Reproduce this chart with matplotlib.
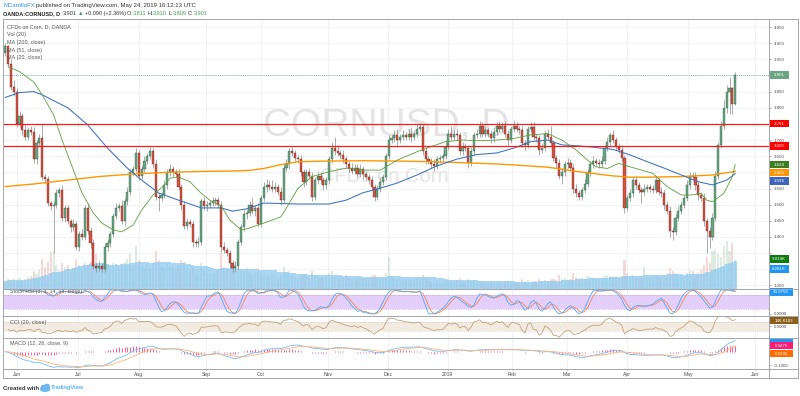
import numpy as np
import pandas as pd
import matplotlib
matplotlib.use("Agg")
import matplotlib.pyplot as plt
from matplotlib.patches import Rectangle, Ellipse
from matplotlib.lines import Line2D
from matplotlib.transforms import blended_transform_factory

plt.rcParams['font.family'] = ['Liberation Sans', 'DejaVu Sans']

# ---------------- data ----------------
first_open = 3.97
closes = [
    3.99, 3.935, 3.865, 3.85, 3.75, 3.775, 3.73, 3.71, 3.73, 3.725,
    3.64, 3.69, 3.705, 3.585, 3.58, 3.505, 3.495, 3.50, 3.535, 3.545,
    3.46, 3.49, 3.45, 3.43, 3.44, 3.37, 3.41, 3.40, 3.49, 3.42,
    3.38, 3.31, 3.305, 3.31, 3.30, 3.37, 3.38, 3.41, 3.465, 3.49,
    3.495, 3.45, 3.51, 3.54, 3.60, 3.61, 3.66, 3.59, 3.61, 3.635,
    3.65, 3.665, 3.625, 3.525, 3.52, 3.53, 3.56, 3.60, 3.61, 3.60,
    3.595, 3.555, 3.50, 3.435, 3.445, 3.44, 3.385, 3.38, 3.385, 3.51,
    3.495, 3.50, 3.505, 3.51, 3.515, 3.50, 3.37, 3.36, 3.35, 3.32,
    3.305, 3.31, 3.385, 3.43, 3.47, 3.475, 3.50, 3.48, 3.49, 3.44,
    3.52, 3.555, 3.56, 3.555, 3.55, 3.555, 3.54, 3.515, 3.615, 3.625,
    3.665, 3.66, 3.645, 3.64, 3.60, 3.57, 3.60, 3.59, 3.525, 3.575,
    3.59, 3.575, 3.56, 3.575, 3.64, 3.675, 3.665, 3.66, 3.655, 3.64,
    3.625, 3.615, 3.605, 3.615, 3.595, 3.61, 3.595, 3.585, 3.575, 3.555,
    3.525, 3.55, 3.57, 3.585, 3.65, 3.70, 3.705, 3.715, 3.70, 3.71,
    3.715, 3.71, 3.72, 3.71, 3.72, 3.735, 3.74, 3.665, 3.64, 3.635,
    3.625, 3.62, 3.64, 3.645, 3.65, 3.68, 3.72, 3.71, 3.72, 3.715,
    3.665, 3.68, 3.675, 3.63, 3.665, 3.715, 3.72, 3.745, 3.72, 3.73,
    3.72, 3.705, 3.725, 3.745, 3.735, 3.745, 3.72, 3.70, 3.735, 3.745,
    3.735, 3.73, 3.69, 3.685, 3.735, 3.74, 3.71, 3.705, 3.67, 3.675,
    3.72, 3.71, 3.69, 3.645, 3.63, 3.59, 3.60, 3.625, 3.63, 3.615,
    3.55, 3.535, 3.525, 3.545, 3.565, 3.60, 3.625, 3.635, 3.63, 3.625,
    3.635, 3.675, 3.695, 3.715, 3.70, 3.68, 3.67, 3.645, 3.49, 3.52,
    3.535, 3.575, 3.56, 3.545, 3.54, 3.55, 3.555, 3.55, 3.545, 3.575,
    3.54, 3.535, 3.50, 3.48, 3.42, 3.415, 3.46, 3.48, 3.50, 3.52,
    3.56, 3.59, 3.585, 3.56, 3.53, 3.52, 3.45, 3.42, 3.40, 3.46,
    3.59, 3.685, 3.745, 3.80, 3.85, 3.86, 3.811, 3.901,
]

# wick lengths in cents above / below the body
wick_up = [
    1.0, 0.5, 1.5, 2.0, 1.0, 1.5, 1.0, 2.0, 1.0, 1.5,
    1.5, 1.0, 1.5, 4.5, 1.0, 1.0, 0.5, 1.0, 1.5, 1.0,
    1.5, 1.0, 1.0, 0.5, 1.5, 1.0, 1.0, 1.5, 1.0, 1.5,
    1.0, 1.5, 1.0, 1.5, 1.0, 1.0, 1.5, 1.0, 1.0, 1.5,
    1.0, 2.0, 1.0, 1.5, 1.0, 1.0, 1.5, 1.0, 1.0, 1.5,
    1.0, 1.5, 1.0, 1.5, 1.0, 1.0, 1.5, 1.0, 1.5, 1.0,
    1.0, 1.5, 1.0, 1.0, 1.5, 1.0, 1.0, 1.0, 1.5, 1.0,
    1.5, 1.0, 1.0, 1.5, 1.0, 1.0, 1.0, 1.5, 1.0, 1.0,
    1.0, 1.5, 1.0, 1.0, 1.5, 1.0, 1.0, 2.0, 1.0, 1.5,
    1.0, 1.5, 2.0, 1.5, 2.0, 1.5, 1.0, 1.5, 1.0, 1.5,
    1.0, 1.5, 1.0, 1.0, 1.5, 1.0, 1.0, 1.5, 1.0, 1.0,
    1.5, 1.0, 1.0, 1.0, 1.0, 2.0, 3.5, 2.0, 1.0, 1.5,
    1.0, 1.0, 1.5, 1.0, 1.0, 1.5, 1.0, 1.0, 1.0, 1.5,
    1.0, 1.0, 1.5, 1.0, 1.0, 1.5, 1.0, 1.5, 2.0, 1.0,
    1.5, 1.0, 1.5, 2.0, 1.0, 1.5, 1.0, 1.0, 1.5, 1.0,
    1.0, 1.5, 1.0, 1.0, 1.0, 1.5, 1.5, 2.5, 1.0, 1.5,
    1.0, 1.5, 1.0, 1.0, 1.5, 1.0, 1.5, 1.5, 1.0, 1.5,
    1.0, 1.0, 1.5, 1.0, 1.5, 1.0, 1.5, 1.0, 1.0, 1.8,
    1.0, 1.0, 1.5, 1.0, 1.0, 1.5, 1.5, 1.0, 1.0, 1.5,
    1.0, 1.5, 3.5, 1.0, 1.0, 1.0, 1.5, 1.0, 1.5, 1.0,
    1.0, 1.5, 1.0, 1.0, 1.5, 1.0, 1.0, 1.5, 1.0, 1.0,
    1.5, 1.0, 1.5, 1.0, 1.5, 1.0, 1.0, 1.5, 1.0, 1.0,
    1.5, 1.0, 1.5, 1.0, 1.0, 1.5, 1.0, 1.0, 1.0, 1.5,
    1.0, 1.5, 1.0, 1.0, 1.5, 1.0, 1.0, 1.5, 1.0, 1.0,
    1.5, 1.0, 1.0, 1.5, 1.0, 1.0, 1.5, 1.0, 1.0, 1.5,
    1.5, 1.0, 1.5, 2.5, 2.0, 3.5, 0.5, 0.9,
]
wick_dn = [
    1.0, 1.0, 1.0, 1.5, 1.0, 1.0, 1.5, 1.0, 1.0, 1.0,
    1.0, 1.5, 1.0, 1.0, 1.5, 1.0, 1.0, 14.5, 1.0, 1.0,
    1.0, 1.5, 1.0, 1.5, 1.0, 1.0, 1.5, 1.0, 1.0, 1.0,
    1.5, 1.0, 1.5, 1.0, 1.0, 1.0, 1.5, 1.0, 1.0, 1.0,
    1.0, 1.0, 1.5, 1.0, 1.0, 1.0, 1.0, 1.5, 1.0, 1.0,
    1.0, 1.0, 1.0, 1.0, 4.0, 1.0, 1.0, 1.0, 1.0, 1.5,
    1.0, 1.0, 1.5, 1.0, 1.0, 1.0, 1.5, 1.0, 1.0, 1.0,
    1.0, 1.5, 1.0, 1.0, 1.0, 1.0, 1.5, 1.0, 1.0, 1.5,
    1.5, 1.0, 1.0, 1.0, 1.0, 1.5, 1.0, 1.0, 1.5, 1.0,
    1.0, 1.0, 1.5, 1.0, 1.0, 1.0, 1.0, 1.5, 1.0, 1.0,
    1.5, 1.0, 1.0, 1.0, 1.0, 1.5, 1.0, 1.0, 1.5, 1.0,
    1.0, 1.0, 1.5, 1.0, 1.0, 1.0, 1.0, 1.0, 1.5, 1.0,
    1.0, 1.5, 1.0, 1.0, 1.0, 1.0, 1.5, 1.0, 1.0, 1.0,
    1.5, 1.0, 1.0, 1.0, 1.0, 1.0, 1.0, 1.0, 1.5, 1.0,
    1.0, 1.0, 1.0, 1.5, 1.0, 1.0, 1.0, 1.0, 1.5, 1.0,
    1.0, 1.5, 1.0, 1.0, 1.0, 1.0, 1.0, 1.0, 1.0, 1.5,
    1.0, 1.0, 1.0, 1.5, 1.0, 1.0, 1.0, 1.0, 1.0, 1.0,
    1.0, 1.5, 1.0, 1.0, 1.0, 1.0, 1.0, 1.5, 1.0, 1.0,
    1.0, 1.0, 1.0, 1.5, 1.0, 1.0, 1.0, 1.0, 1.5, 1.0,
    1.0, 1.0, 1.0, 1.0, 1.5, 1.0, 2.5, 1.0, 1.0, 1.0,
    1.5, 1.0, 1.0, 1.0, 1.0, 1.0, 1.0, 1.0, 1.0, 1.0,
    1.0, 1.0, 1.0, 1.0, 1.0, 1.0, 1.0, 1.0, 1.5, 1.0,
    1.0, 1.0, 1.0, 1.0, 3.5, 1.0, 1.0, 1.0, 1.0, 1.0,
    1.0, 1.0, 1.5, 1.0, 2.0, 2.5, 1.0, 1.0, 1.0, 1.0,
    1.0, 1.0, 1.0, 1.5, 1.5, 1.0, 1.5, 7.0, 3.5, 1.0,
    1.0, 1.0, 1.0, 1.0, 1.5, 7.0, 3.0, 0.1,
]

# volume in thousands
volumes = [
    2.5, 3.0, 2.8, 3.2, 2.6, 3.5, 2.4, 3.0, 3.8, 4.2,
    5.5, 4.8, 6.0, 9.5, 7.0, 8.5, 11.5, 12.0, 7.5, 6.0,
    8.0, 7.0, 7.5, 6.0, 6.5, 9.5, 7.5, 6.0, 8.0, 7.5,
    8.5, 9.0, 11.0, 7.5, 6.5, 8.5, 7.5, 7.0, 8.0, 7.5,
    6.5, 7.5, 8.5, 9.5, 11.0, 7.5, 13.5, 9.0, 7.5, 6.5,
    7.5, 6.5, 8.0, 12.0, 9.0, 7.0, 6.5, 8.0, 7.0, 6.5,
    6.0, 7.5, 9.0, 8.5, 6.0, 5.5, 7.0, 5.0, 4.5, 8.0,
    5.5, 5.0, 4.5, 4.8, 5.0, 6.0, 12.0, 7.0, 6.5, 6.0,
    7.5, 5.5, 7.0, 6.0, 5.5, 6.5, 5.0, 4.5, 5.0, 6.5,
    5.0, 4.5, 4.0, 3.8, 4.2, 4.0, 3.5, 4.5, 7.0, 5.0,
    5.5, 4.0, 3.8, 3.5, 4.5, 4.8, 4.0, 3.5, 5.5, 4.5,
    4.0, 3.5, 3.8, 4.0, 5.0, 5.5, 4.0, 3.5, 3.0, 3.8,
    4.5, 3.5, 3.2, 3.0, 3.8, 3.5, 3.0, 3.2, 3.5, 4.0,
    4.5, 3.5, 3.2, 3.5, 5.0, 10.0, 4.0, 3.5, 3.2, 3.0,
    2.8, 3.0, 3.2, 2.8, 3.0, 3.5, 3.2, 4.5, 3.5, 3.0,
    2.5, 2.0, 2.2, 1.8, 2.0, 2.8, 3.2, 2.5, 2.2, 2.8,
    3.5, 2.5, 2.2, 3.0, 2.5, 2.8, 2.2, 2.5, 2.3, 2.0,
    2.2, 2.5, 2.0, 2.3, 2.1, 2.0, 2.4, 2.6, 2.2, 2.0,
    2.1, 2.0, 3.0, 2.5, 2.8, 2.3, 2.6, 2.4, 3.0, 2.2,
    2.8, 2.5, 3.0, 3.2, 2.8, 4.5, 3.0, 3.5, 2.8, 3.2,
    5.0, 3.8, 3.5, 3.5, 3.2, 4.0, 3.8, 3.5, 3.2, 3.0,
    3.5, 4.0, 4.5, 4.2, 3.8, 4.0, 3.5, 4.0, 9.0, 5.0,
    4.0, 4.5, 4.0, 3.8, 4.2, 7.0, 4.0, 3.5, 3.8, 4.5,
    4.0, 3.8, 4.5, 5.0, 6.5, 5.5, 5.0, 4.5, 4.2, 4.0,
    5.0, 6.0, 5.5, 4.8, 5.0, 6.0, 7.5, 10.0, 8.0, 12.0,
    12.5, 11.0, 10.0, 13.5, 15.0, 12.0, 14.5, 9.034,
]

# moving averages (bar index, value)
ma20_idx = [1, 5, 10, 13, 17, 20, 24, 27, 31, 34, 38, 41, 45, 48, 52, 56, 58, 61, 65,
            69, 72, 76, 79, 83, 85, 91, 97, 99, 103, 108, 114, 120, 126, 132, 134, 138,
            145, 150, 155, 161, 167, 173, 179, 185, 191, 196, 201, 205, 208, 212, 216,
            220, 224, 228, 233, 238, 242, 245, 247, 249, 253, 256, 257]
ma20_val = [3.927, 3.912, 3.88, 3.84, 3.778, 3.70, 3.607, 3.536, 3.474, 3.443, 3.422,
            3.416, 3.437, 3.483, 3.53, 3.56, 3.582, 3.586, 3.571, 3.535, 3.514, 3.496,
            3.453, 3.422, 3.425, 3.443, 3.462, 3.49, 3.55, 3.587, 3.602, 3.613, 3.607,
            3.607, 3.617, 3.638, 3.664, 3.68, 3.695, 3.70, 3.698, 3.70, 3.705, 3.716,
            3.72, 3.70, 3.669, 3.638, 3.617, 3.612, 3.628, 3.617, 3.607, 3.597, 3.556,
            3.53, 3.53, 3.535, 3.514, 3.509, 3.535, 3.587, 3.624]
ma51_idx = [0, 5, 10, 13, 22, 29, 36, 43, 48, 54, 61, 69, 76, 80, 85, 91, 103, 114,
            120, 126, 132, 138, 145, 152, 159, 166, 173, 179, 185, 191, 196, 202, 208,
            214, 220, 226, 232, 238, 244, 249, 254, 257]
ma51_val = [3.832, 3.847, 3.85, 3.84, 3.80, 3.747, 3.675, 3.613, 3.576, 3.536, 3.514,
            3.49, 3.49, 3.48, 3.487, 3.505, 3.502, 3.502, 3.514, 3.537, 3.551, 3.567,
            3.592, 3.62, 3.641, 3.655, 3.66, 3.675, 3.695, 3.70, 3.685, 3.682, 3.677,
            3.671, 3.654, 3.633, 3.613, 3.592, 3.571, 3.561, 3.576, 3.596]
ma200_idx = [0, 10, 22, 33, 45, 57, 69, 79, 86, 91, 97, 103, 114, 126, 138, 150, 161,
             173, 179, 191, 202, 214, 220, 226, 238, 249, 257]
ma200_val = [3.556, 3.564, 3.576, 3.587, 3.595, 3.60, 3.603, 3.604, 3.606, 3.612, 3.624,
             3.633, 3.635, 3.636, 3.635, 3.633, 3.63, 3.626, 3.623, 3.616, 3.602, 3.589,
             3.585, 3.585, 3.587, 3.592, 3.603]

levels = [3.751, 3.682]

month_pos = [4.0, 25.5, 47.0, 70.7, 90.0, 113.6, 134.8, 155.8, 178.4, 197.7, 218.9, 240.4, 264.0]
month_lbl = ["Jun", "Jul", "Aug", "Sep", "Oct", "Nov", "Dec", "2019", "Feb", "Mar", "Apr", "May", "Jun"]
price_ticks = [3.25, 3.30, 3.35, 3.40, 3.45, 3.50, 3.55, 3.60, 3.65, 3.70, 3.75, 3.80,
               3.85, 3.90, 3.95, 4.00, 4.05]
# tick labels that sit under the coloured value tags are not shown
hidden_ticks = [3.30, 3.35, 3.60, 3.75, 3.90]

# ---------------- derived series ----------------
c = pd.Series(closes)
opens = np.array([first_open] + closes[:-1])
cl = np.array(closes)
highs = np.maximum(opens, cl) + np.array(wick_up) / 100
lows = np.minimum(opens, cl) - np.array(wick_dn) / 100
idx = np.arange(len(closes))
up = cl >= opens
vol = np.array(volumes)
vol_ma = pd.Series(vol).rolling(20, min_periods=1).mean().values

delta = c.diff()
gain = delta.clip(lower=0).ewm(alpha=1 / 14, adjust=False).mean()
loss = (-delta).clip(lower=0).ewm(alpha=1 / 14, adjust=False).mean()
rsi = 100 - 100 / (1 + gain / loss)
rlo = rsi.rolling(14, min_periods=1).min()
rhi = rsi.rolling(14, min_periods=1).max()
stoch = 100 * (rsi - rlo) / (rhi - rlo)
st_k = stoch.rolling(3, min_periods=1).mean()
st_d = st_k.rolling(3, min_periods=1).mean()

sma20 = c.rolling(20, min_periods=2).mean()
mdev = c.rolling(20, min_periods=2).apply(lambda x: np.mean(np.abs(x - x.mean())), raw=True)
cci = (c - sma20) / (0.015 * mdev)

macd = c.ewm(span=12, adjust=False).mean() - c.ewm(span=26, adjust=False).mean()
signal = macd.ewm(span=9, adjust=False).mean()
hist = macd - signal

# ---------------- layout ----------------
W, H = 800, 396
fig = plt.figure(figsize=(8, 3.96), dpi=100)
fig.patch.set_facecolor("white")
X0, X1 = 3, 769
XLIM = (-0.81, 268.9)
UP, DOWN = "#6ba583", "#d75442"
UP_EDGE, DOWN_EDGE = "#225437", "#5b1a13"
TXT = "#4a4a4a"
GRID = "#eef0f4"


def fx(px):
    return px / W


def fy(py):
    return 1 - py / H


def pane(top, bottom):
    ax = fig.add_axes([fx(X0), fy(bottom), (X1 - X0) / W, (bottom - top) / H])
    ax.set_xlim(*XLIM)
    ax.set_xticks([])
    for s in ax.spines.values():
        s.set_visible(False)
    ax.yaxis.tick_right()
    ax.tick_params(axis="y", length=1.5, width=0.5, color="#888888", pad=1.8,
                   labelsize=3.2, labelcolor=TXT)
    for m in month_pos:
        ax.axvline(m, color=GRID, lw=0.6, zorder=0)
    return ax


def tag(ax, y, text, color, w_px=20, h_px=7.5):
    y0, y1 = ax.get_ylim()
    pos = ax.get_position()
    h = h_px * (y1 - y0) / (pos.height * H)
    w = w_px / (pos.width * W)
    tr = blended_transform_factory(ax.transAxes, ax.transData)
    ax.add_patch(Rectangle((1.0, y - h / 2), w, h, transform=tr, facecolor=color,
                           edgecolor="none", clip_on=False, zorder=6))
    if text:
        ax.text(1.0 + w / 2, y, text, transform=tr, ha="center", va="center",
                fontsize=3.2, color="white", clip_on=False, zorder=7)


# ---- main price pane ----
ax = pane(19, 289)
ax.set_ylim(3.2389, 4.0748)
ax.set_yticks(price_ticks)
ax.set_yticklabels(["" if any(abs(p - h) < 1e-9 for h in hidden_ticks) else f"{p:.3f}"
                    for p in price_ticks])
for p in price_ticks:
    ax.axhline(p, color=GRID, lw=0.6, zorder=0)

# watermark, centred on the pane (bar index 134 is the middle of the plot)
ax.text(134, 3.742, "CORNUSD, D", fontsize=28, color="#e4e4e4", ha="center",
        va="center", zorder=0.5)
ax.text(133.5, 3.588, "CFDs on Corn", fontsize=14.5, color="#e4e4e4", ha="center",
        va="center", zorder=0.5)

# volume overlay at bottom of the pane (3.2 px per 1K)
vk = 3.2 / 323.0
vol_col = [UP if u else DOWN for u in up]
ax.bar(idx, vol * vk, bottom=3.2389, width=0.75, color=vol_col, alpha=0.22,
       linewidth=0, zorder=1)
ax.bar(idx, vol_ma * vk, bottom=3.2389, width=1.0, color="#8ccaf0", alpha=0.75,
       linewidth=0, zorder=1.2)

# candles
ax.vlines(idx, lows, highs, color="#8a8a8a", lw=0.5, zorder=2)
body_lo = np.minimum(opens, cl)
body_h = np.maximum(np.abs(cl - opens), 0.0015)
ax.bar(idx, body_h, bottom=body_lo, width=0.75,
       color=[UP if u else DOWN for u in up],
       edgecolor=[UP_EDGE if u else DOWN_EDGE for u in up], linewidth=0.25, zorder=2.5)

ax.plot(ma200_idx, ma200_val, color="#ff9800", lw=1.0, zorder=3)
ax.plot(ma51_idx, ma51_val, color="#3c6fbf", lw=0.75, zorder=3)
ax.plot(ma20_idx, ma20_val, color="#5c9e3f", lw=0.6, zorder=3)

for lv in levels:
    ax.axhline(lv, color="#ff1a1a", lw=0.9, zorder=4)
ax.axhline(closes[-1], color=UP, lw=0.6, ls=(0, (1, 1.5)), zorder=1.5)

legend_lines = ["CFDs on Corn, D, OANDA", "Vol (20)", "MA (200, close)",
                "MA (51, close)", "MA (20, close)"]
for k, s in enumerate(legend_lines):
    fig.text(fx(7), fy(26.7 + 7.8 * k), s, fontsize=3.9, color="#555555",
             ha="left", va="center")

tag(ax, 3.901, "3.901", UP)
tag(ax, 3.751, "3.751", "#ff0000")
tag(ax, 3.682, "3.682", "#ff0000")
tag(ax, 3.624, "3.624", "#3a7d22")
tag(ax, 3.599, "3.603", "#ff9800")
tag(ax, 3.574, "3.596", "#3d66b8")
tag(ax, 3.332, "9.034K", "#0c7a0c")
tag(ax, 3.301, "8.281K", "#2196f3")

# ---- Stoch RSI pane ----
ax_s = pane(289, 316.3)
ax_s.set_ylim(-10.5, 104.2)
ax_s.set_yticks([0])
ax_s.set_yticklabels(["0.0000"])
ax_s.axhspan(20, 80, color="#e4cefa", zorder=0.5, lw=0)
for lv in (20, 80):
    ax_s.axhline(lv, color="#b596da", lw=0.4, ls=(0, (2, 2)), zorder=0.6)
ax_s.plot(idx, st_k, color="#58a8f0", lw=0.6, zorder=3)
ax_s.plot(idx, st_d, color="#f08a5a", lw=0.6, zorder=2.5)
ax_s.text(1.5, 94, "Stoch RSI (3, 3, 14, 14, close)", fontsize=3.9, color="#555555",
          va="center")
tag(ax_s, 91, "93.9756", "#2196f3", w_px=24)

# ---- CCI pane ----
ax_c = pane(316.3, 338)
ax_c.set_ylim(-250, 216)
ax_c.set_yticks([0])
ax_c.set_yticklabels(["0.0000"])
ax_c.axhspan(-100, 100, color="#f1ebe1", zorder=0.5, lw=0)
for lv in (-100, 100):
    ax_c.axhline(lv, color="#d2c4ae", lw=0.4, ls=(0, (2, 2)), zorder=0.6)
ax_c.plot(idx, cci, color="#c4a27a", lw=0.6, zorder=3)
ax_c.text(1.5, 80, "CCI (20, close)", fontsize=3.9, color="#555555", va="center")
tag(ax_c, 125, "146.6183", "#8b6016", w_px=29)

# ---- MACD pane ----
ax_m = pane(338, 368.7)
ax_m.set_ylim(-0.125, 0.1007)
ax_m.set_yticks([-0.1])
ax_m.set_yticklabels(["-0.1000"])
ax_m.vlines(idx, 0, hist, color="#ff5a96", lw=0.7, zorder=2)
ax_m.plot(idx, macd, color="#72bcf5", lw=0.6, zorder=3)
ax_m.plot(idx, signal, color="#ffb27a", lw=0.6, zorder=3)
ax_m.text(1.5, 0.062, "MACD (12, 26, close, 9)", fontsize=3.9, color="#555555",
          va="center")
tag(ax_m, 0.082, "", "#2196f3", w_px=24, h_px=3.5)
tag(ax_m, 0.044, "0.0475", "#ff1a75", w_px=24)
tag(ax_m, -0.0147, "0.0330", "#ff6d00", w_px=24)

# ---- time axis strip ----
ax_t = fig.add_axes([fx(X0), fy(378), (X1 - X0) / W, 9.3 / H])
ax_t.set_xlim(*XLIM)
ax_t.set_ylim(0, 1)
ax_t.axis("off")
for m, lb in zip(month_pos, month_lbl):
    ax_t.text(m, 0.42, lb, fontsize=3.6, color=TXT, ha="center", va="center")
    ax_t.plot([m, m], [0.85, 1.0], color="#999999", lw=0.4)

# ---- frame and separators ----
frame_col = "#a3a6ad"
for y in (19, 289, 316.3, 338, 368.7, 378):
    fig.add_artist(Line2D([fx(3), fx(798)], [fy(y), fy(y)], color=frame_col, lw=0.7))
for x in (3, 769, 798):
    fig.add_artist(Line2D([fx(x), fx(x)], [fy(19), fy(378)], color=frame_col, lw=0.7))

# ---- header ----
renderer = fig.canvas.get_renderer()


def run_text(x_px, y_px, pieces, size):
    x = x_px
    for s, col, wt, gap in pieces:
        t = fig.text(fx(x), fy(y_px), s, fontsize=size, color=col, fontweight=wt,
                     ha="left", va="center")
        x += t.get_window_extent(renderer=renderer).width + gap
    return x


GREEN_TXT = "#3fa34d"
run_text(3.3, 5.8, [("MCarrilloFX", "#2196f3", "normal", 1.2),
                    ("published on TradingView.com, May 24, 2019 16:12:13 UTC",
                     "#333333", "normal", 0)], 4.3)
run_text(3.3, 13.8, [("OANDA:CORNUSD, D", "#222222", "bold", 2.5),
                     ("3.901", "#333333", "normal", 1.2),
                     ("\u25b2", GREEN_TXT, "normal", 1.2),
                     ("+0.090 (+2.36%)", "#333333", "normal", 1.2),
                     ("O:", "#333333", "normal", 0), ("3.811", GREEN_TXT, "normal", 1.2),
                     ("H:", "#333333", "normal", 0), ("3.910", GREEN_TXT, "normal", 1.2),
                     ("L:", "#333333", "normal", 0), ("3.809", GREEN_TXT, "normal", 1.2),
                     ("C:", "#333333", "normal", 0), ("3.901", GREEN_TXT, "normal", 0)], 4.0)

# ---- footer ----
xe = run_text(3, 388, [("Created with", "#333333", "bold", 0)], 4.3)
lx = xe + 6
fig.add_artist(Ellipse((fx(lx), fy(389.2)), 9 / W, 4.2 / H, color="#6fb8ef"))
fig.add_artist(Ellipse((fx(lx - 1.6), fy(387.6)), 4.4 / W, 4.4 / H, color="#6fb8ef"))
fig.add_artist(Ellipse((fx(lx + 1.8), fy(386.9)), 5 / W, 5 / H, color="#6fb8ef"))
fig.text(fx(lx + 5.5), fy(388), "TradingView", fontsize=4.3, color="#2196f3",
         ha="left", va="center")

fig.savefig("out.png", dpi=100)
